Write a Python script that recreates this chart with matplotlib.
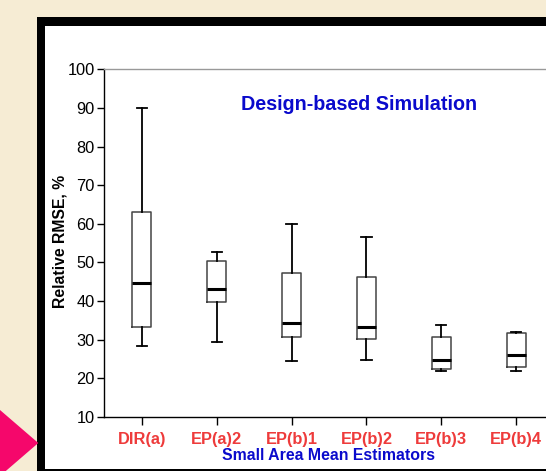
import matplotlib
matplotlib.use("Agg")
import matplotlib.pyplot as plt
from matplotlib.patches import Rectangle, Polygon

# ---- data ----
categories = ["DIR(a)", "EP(a)2", "EP(b)1", "EP(b)2", "EP(b)3", "EP(b)4"]
whislo = [28.5, 29.4, 24.5, 24.8, 22.0, 21.9]
q1     = [33.2, 39.7, 30.8, 30.2, 22.3, 23.0]
med    = [44.6, 43.1, 34.3, 33.2, 24.8, 26.0]
q3     = [63.1, 50.5, 47.2, 46.3, 30.6, 31.7]
whishi = [90.0, 52.8, 59.9, 56.7, 33.8, 32.0]
yticks = [10, 20, 30, 40, 50, 60, 70, 80, 90, 100]

title = "Design-based Simulation"
xlabel = "Small Area Mean Estimators"
ylabel = "Relative RMSE, %"

W, H = 546, 471
plt.rcParams['font.family'] = ['Liberation Sans', 'DejaVu Sans']
fig = plt.figure(figsize=(W / 100, H / 100), dpi=100, facecolor='#F6ECD4')

def fx(px):
    return px / W

def fy(py):
    return 1 - py / H

# frame: black border then white interior
fig.add_artist(Rectangle((fx(36.6), fy(480)), fx(600), (480 - 16.7) / H,
                         transform=fig.transFigure, facecolor='black',
                         edgecolor='none', zorder=0))
fig.add_artist(Rectangle((fx(45.3), fy(468.5)), fx(600), (468.5 - 26) / H,
                         transform=fig.transFigure, facecolor='white',
                         edgecolor='none', zorder=0.5))

# axes
ax_left, ax_top, ax_bottom = 104.3, 69.3, 417.0
unit = 74.9
ax_width = 7 * unit
ax = fig.add_axes([fx(ax_left), fy(ax_bottom), ax_width / W, (ax_bottom - ax_top) / H])
ax.set_facecolor('none')
ax.set_zorder(2)

stats = []
for i, c in enumerate(categories):
    stats.append(dict(label=c, whislo=whislo[i], q1=q1[i], med=med[i],
                      q3=q3[i], whishi=whishi[i], fliers=[]))
pos = list(range(len(categories)))
ax.bxp(stats, positions=pos, widths=0.255, capwidths=0.135, showfliers=False,
       boxprops=dict(color='#444444', linewidth=1.1),
       whiskerprops=dict(color='black', linewidth=1.3),
       capprops=dict(color='black', linewidth=1.3),
       medianprops=dict(color='black', linewidth=2.2))

ax.set_xlim(-0.5, 6.5)
ax.set_ylim(10, 100)
ax.set_yticks(yticks)
ax.set_yticklabels([str(v) for v in yticks], fontsize=11.8, color='black')
ax.set_xticks(pos)
ax.set_xticklabels(categories, fontsize=11.8, fontweight='bold', color='#EE3B3B')
ax.tick_params(axis='y', direction='out', length=5, width=1, pad=2)
ax.tick_params(axis='x', direction='out', length=6, width=1, pad=5)

ax.spines['right'].set_visible(False)
ax.spines['top'].set_color('#999999')
ax.spines['top'].set_linewidth(1.0)
ax.spines['left'].set_linewidth(1.0)
ax.spines['bottom'].set_linewidth(1.0)

# texts
fig.text(fx(359), fy(104), title, color='#0A0ACC', fontsize=14.2,
         fontweight='bold', ha='center', va='center', zorder=3)
fig.text(fx(329), fy(455), xlabel, color='#0A0ACC', fontsize=11.4,
         fontweight='bold', ha='center', va='center', zorder=3)
fig.text(fx(60), fy(241), ylabel, color='black', fontsize=11.3,
         fontweight='bold', ha='center', va='center', rotation=90, zorder=3)

# magenta pointer triangle
fig.add_artist(Polygon([(fx(0), fy(410)), (fx(38.3), fy(443)), (fx(0), fy(476))],
                       closed=True, transform=fig.transFigure,
                       facecolor='#F5076B', edgecolor='none', zorder=4))

fig.savefig('out.png', dpi=100, facecolor=fig.get_facecolor())
